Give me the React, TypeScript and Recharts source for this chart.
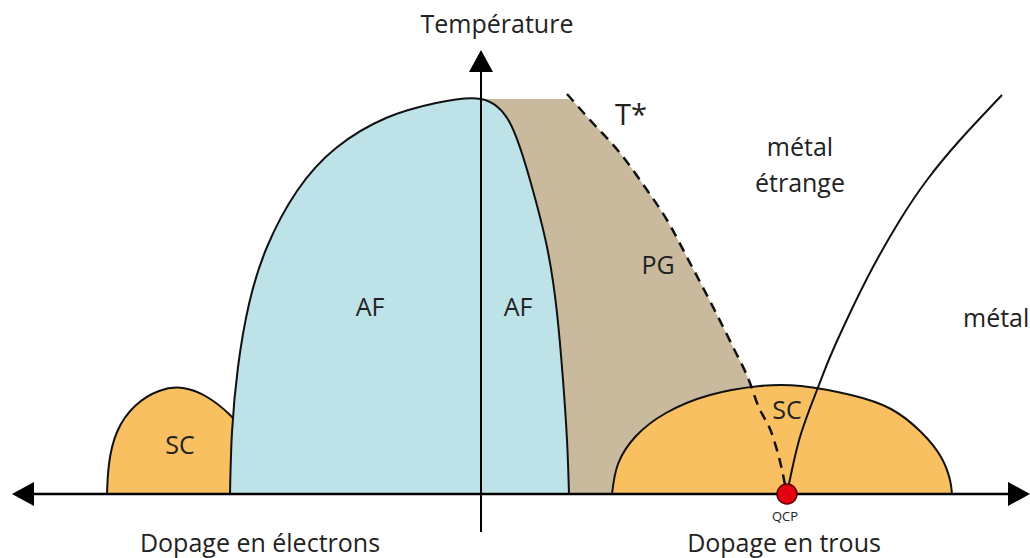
import React from 'react';
import { ComposedChart, XAxis, YAxis, Area, Line, Scatter, ReferenceLine, ReferenceDot } from 'recharts';

// doping (x, 0 = undoped) and temperature (y, 0 = T=0)
const afDome = [
  { x: -251, y: 0 }, { x: -249, y: 62 }, { x: -243, y: 127 }, { x: -232, y: 190 },
  { x: -214, y: 247 }, { x: -184, y: 303 }, { x: -145, y: 346 }, { x: -95, y: 376 },
  { x: -45, y: 391 }, { x: 0, y: 395 }, { x: 29, y: 371 }, { x: 49, y: 314 },
  { x: 66, y: 247 }, { x: 76, y: 181 }, { x: 82, y: 114 }, { x: 86, y: 54 }, { x: 88, y: 0 },
];
const scElectron = [
  { x: -374, y: 0 }, { x: -372, y: 30 }, { x: -364, y: 62 }, { x: -346, y: 88 },
  { x: -322, y: 103 }, { x: -298, y: 106 }, { x: -274, y: 97 }, { x: -252, y: 80 },
  { x: -236, y: 62 },
];
const pseudogap = [
  { x: 0, y: 395 }, { x: 86, y: 395 }, { x: 109, y: 374 }, { x: 139, y: 341 },
  { x: 166, y: 304 }, { x: 186, y: 274 }, { x: 209, y: 231 }, { x: 232, y: 187 },
  { x: 252, y: 147 }, { x: 269, y: 111 }, { x: 276, y: 91 },
];
const tStar = [
  { x: 86, y: 400 }, { x: 109, y: 374 }, { x: 139, y: 341 }, { x: 166, y: 304 },
  { x: 186, y: 274 }, { x: 209, y: 231 }, { x: 232, y: 187 }, { x: 252, y: 147 },
  { x: 269, y: 111 }, { x: 276, y: 91 }, { x: 292, y: 57 }, { x: 301, y: 24 },
  { x: 305, y: 4 },
];
const scHole = [
  { x: 131, y: 0 }, { x: 137, y: 30 }, { x: 155, y: 58 }, { x: 185, y: 81 },
  { x: 229, y: 99 }, { x: 279, y: 108 }, { x: 320, y: 108 }, { x: 370, y: 99 },
  { x: 410, y: 85 }, { x: 440, y: 62 }, { x: 460, y: 37 }, { x: 469, y: 14 },
  { x: 471, y: 0 },
];
const crossover = [
  { x: 306, y: 0 }, { x: 319, y: 57 }, { x: 336, y: 104 }, { x: 349, y: 137 },
  { x: 369, y: 181 }, { x: 392, y: 227 }, { x: 419, y: 274 }, { x: 446, y: 314 },
  { x: 479, y: 354 }, { x: 521, y: 399 },
];
const qcp = { x: 306, y: 0 };
const arrowTips = [
  { x: -469, y: 0, dir: 'left' },
  { x: 549, y: 0, dir: 'right' },
  { x: 0, y: 444, dir: 'up' },
];
const labels = [
  { x: 16, y: 470, text: 'Température', size: 25 },
  { x: 150, y: 379, text: 'T*', size: 29 },
  { x: 319, y: 347, text: 'métal', size: 25 },
  { x: 319, y: 311, text: 'étrange', size: 25 },
  { x: -111, y: 187, text: 'AF', size: 25 },
  { x: 37, y: 187, text: 'AF', size: 25 },
  { x: 177, y: 229, text: 'PG', size: 25 },
  { x: -301, y: 49, text: 'SC', size: 25 },
  { x: 306, y: 84, text: 'SC', size: 25 },
  { x: 304, y: -22, text: 'QCP', size: 13 },
  { x: -221, y: -49, text: 'Dopage en électrons', size: 25 },
  { x: 303, y: -49, text: 'Dopage en trous', size: 25 },
];
const sideLabel = { x: 481, y: 176, text: 'métal', size: 25 };

const FONT = '"Open Sans", "Noto Sans", sans-serif';
const AF_COLOR = '#BDE2E8';
const SC_COLOR = '#F9C062';
const PG_COLOR = '#CABA9D';
const INK = '#111111';

const Arrow = (props: any) => {
  const { cx, cy, payload } = props;
  const L = 22;
  const H = 12;
  let pts = '';
  if (payload.dir === 'left') pts = `${cx},${cy} ${cx + L},${cy - H} ${cx + L},${cy + H}`;
  else if (payload.dir === 'right') pts = `${cx},${cy} ${cx - L},${cy - H} ${cx - L},${cy + H}`;
  else pts = `${cx},${cy} ${cx - H},${cy + L} ${cx + H},${cy + L}`;
  return <polygon points={pts} fill="#000" />;
};

export default function App() {
  return (
    <div style={{ position: 'absolute', left: 0, top: 0, width: 1030, height: 558, background: '#fff', fontFamily: FONT }}>
      <ComposedChart width={1030} height={558} margin={{ top: 0, right: 0, bottom: 0, left: 0 }}>
        <XAxis type="number" dataKey="x" domain={[-481, 549]} allowDataOverflow hide />
        <YAxis type="number" dataKey="y" domain={[-64, 494]} allowDataOverflow hide />
        <Area data={pseudogap} dataKey="y" type="monotone" baseValue={0} fill={PG_COLOR} fillOpacity={1} stroke="none" isAnimationActive={false} />
        <Area data={scElectron} dataKey="y" type="natural" baseValue={0} fill={SC_COLOR} fillOpacity={1} stroke={INK} strokeWidth={2} isAnimationActive={false} />
        <Area data={afDome} dataKey="y" type="natural" baseValue={0} fill={AF_COLOR} fillOpacity={1} stroke={INK} strokeWidth={2} isAnimationActive={false} />
        <Area data={scHole} dataKey="y" type="natural" baseValue={0} fill={SC_COLOR} fillOpacity={1} stroke={INK} strokeWidth={2} isAnimationActive={false} />
        <Line data={tStar} dataKey="y" type="monotone" stroke={INK} strokeWidth={2.5} strokeDasharray="10 7" dot={false} isAnimationActive={false} />
        <Line data={crossover} dataKey="y" type="natural" stroke={INK} strokeWidth={2} dot={false} isAnimationActive={false} />
        <ReferenceLine segment={[{ x: -460, y: 0 }, { x: 540, y: 0 }]} stroke="#000" strokeWidth={2.5} ifOverflow="visible" />
        <ReferenceLine segment={[{ x: 0, y: -38 }, { x: 0, y: 430 }]} stroke="#000" strokeWidth={2} ifOverflow="visible" />
        <Scatter data={arrowTips} dataKey="y" shape={Arrow} isAnimationActive={false} />
        <ReferenceDot x={qcp.x} y={qcp.y} r={10} fill="#E3000F" stroke="#5a0000" strokeWidth={1.5} ifOverflow="visible" />
        {labels.map((l, i) => (
          <ReferenceDot key={i} x={l.x} y={l.y} r={1} fill="none" stroke="none" ifOverflow="visible"
            label={{ value: l.text, position: 'center', fontSize: l.size, fill: '#222', fontFamily: FONT }} />
        ))}
        <ReferenceDot x={sideLabel.x} y={sideLabel.y} r={1} fill="none" stroke="none" ifOverflow="visible"
          label={{ value: sideLabel.text, position: 'right', offset: 0, fontSize: sideLabel.size, fill: '#222', fontFamily: FONT }} />
      </ComposedChart>
    </div>
  );
}
